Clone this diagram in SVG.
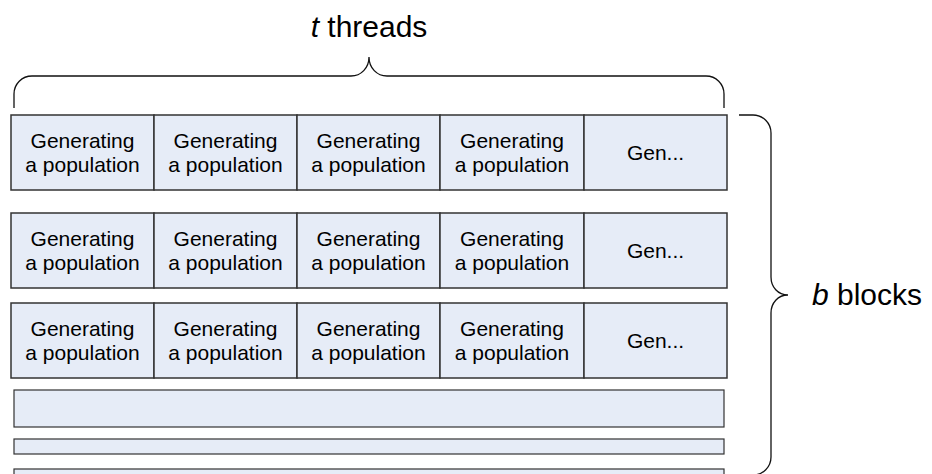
<svg xmlns="http://www.w3.org/2000/svg" width="932" height="474" viewBox="0 0 932 474">
<style>
.cell{fill:#E6ECF7;stroke:#333;stroke-width:1.5}
.bar{fill:#E6ECF7;stroke:#333;stroke-width:1.2}
.t{font-family:"Liberation Sans",Arial,sans-serif;font-size:21px;fill:#000;text-anchor:middle}
.big{font-family:"Liberation Sans",Arial,sans-serif;font-size:30px;fill:#000}
.brace{fill:none;stroke:#111;stroke-width:1.3}
</style>
<rect width="932" height="474" fill="#fff"/>
<g id="label-threads"><text class="big" x="369" y="37" text-anchor="middle"><tspan font-style="italic">t</tspan> threads</text></g>
<g id="label-blocks"><text class="big" x="812" y="305"><tspan font-style="italic">b</tspan> blocks</text></g>
<g id="connectors">
<path class="brace" d="M14,108 V94 C14,84 22,76 32,76 H351 C361,76 369,68 369,57 C369,68 377,76 387,76 H706 C716,76 724,84 724,94 V108"/>
<path class="brace" d="M739,115 H753 C763,115 771,123 771,133 V277 C771,287 778,295 788,295 C778,295 771,303 771,313 V457 C771,467 763,475 753,475 H739"/>
</g>
<g id="row1">
<rect class="cell" x="11" y="115" width="143" height="75"/>
<rect class="cell" x="154" y="115" width="143" height="75"/>
<rect class="cell" x="297" y="115" width="143" height="75"/>
<rect class="cell" x="440" y="115" width="144" height="75"/>
<rect class="cell" x="584" y="115" width="143" height="75"/>
<text class="t" x="82.5" y="148">Generating</text><text class="t" x="82.5" y="172">a population</text>
<text class="t" x="225.5" y="148">Generating</text><text class="t" x="225.5" y="172">a population</text>
<text class="t" x="368.5" y="148">Generating</text><text class="t" x="368.5" y="172">a population</text>
<text class="t" x="512" y="148">Generating</text><text class="t" x="512" y="172">a population</text>
<text class="t" x="655.5" y="160">Gen...</text>
</g>
<g id="row2">
<rect class="cell" x="11" y="213" width="143" height="75"/>
<rect class="cell" x="154" y="213" width="143" height="75"/>
<rect class="cell" x="297" y="213" width="143" height="75"/>
<rect class="cell" x="440" y="213" width="144" height="75"/>
<rect class="cell" x="584" y="213" width="143" height="75"/>
<text class="t" x="82.5" y="246">Generating</text><text class="t" x="82.5" y="270">a population</text>
<text class="t" x="225.5" y="246">Generating</text><text class="t" x="225.5" y="270">a population</text>
<text class="t" x="368.5" y="246">Generating</text><text class="t" x="368.5" y="270">a population</text>
<text class="t" x="512" y="246">Generating</text><text class="t" x="512" y="270">a population</text>
<text class="t" x="655.5" y="258">Gen...</text>
</g>
<g id="row3">
<rect class="cell" x="11" y="303" width="143" height="75"/>
<rect class="cell" x="154" y="303" width="143" height="75"/>
<rect class="cell" x="297" y="303" width="143" height="75"/>
<rect class="cell" x="440" y="303" width="144" height="75"/>
<rect class="cell" x="584" y="303" width="143" height="75"/>
<text class="t" x="82.5" y="336">Generating</text><text class="t" x="82.5" y="360">a population</text>
<text class="t" x="225.5" y="336">Generating</text><text class="t" x="225.5" y="360">a population</text>
<text class="t" x="368.5" y="336">Generating</text><text class="t" x="368.5" y="360">a population</text>
<text class="t" x="512" y="336">Generating</text><text class="t" x="512" y="360">a population</text>
<text class="t" x="655.5" y="348">Gen...</text>
</g>
<g id="bar1"><rect class="bar" x="14" y="390" width="710" height="37"/></g>
<g id="bar2"><rect class="bar" x="14" y="439" width="710" height="15"/></g>
<g id="bar3"><rect class="bar" x="14" y="469" width="710" height="20"/></g>
</svg>
